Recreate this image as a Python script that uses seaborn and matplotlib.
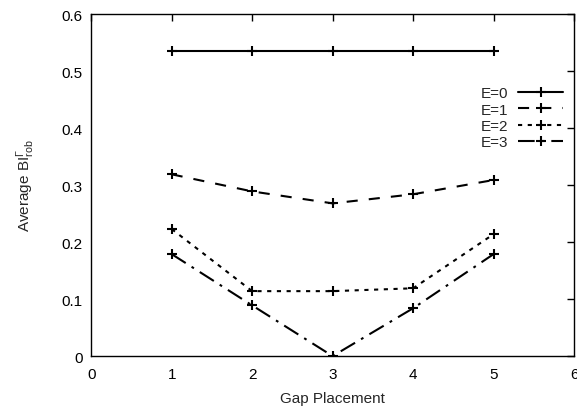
import matplotlib
matplotlib.use("Agg")
import matplotlib.pyplot as plt
import seaborn as sns

gap_placement = [1, 2, 3, 4, 5]
e0 = [0.535, 0.535, 0.535, 0.535, 0.535]
e1 = [0.319, 0.289, 0.268, 0.284, 0.309]
e2 = [0.223, 0.114, 0.114, 0.119, 0.214]
e3 = [0.179, 0.089, 0.0, 0.084, 0.179]
series_names = ["E=0", "E=1", "E=2", "E=3"]

sns.set_theme(style="white")
plt.rcParams["font.family"] = ["Liberation Sans", "DejaVu Sans"]
plt.rcParams["mathtext.fontset"] = "custom"
plt.rcParams["mathtext.rm"] = "Liberation Sans"
plt.rcParams["mathtext.it"] = "Liberation Sans:italic"
plt.rcParams["lines.scale_dashes"] = False

fig, ax = plt.subplots(figsize=(5.77, 4.10), dpi=100)
fig.subplots_adjust(left=0.158, right=0.995, top=0.963, bottom=0.129)

styles = ["-", (0, (8, 8)), (0, (3, 4)), (0, (12, 5, 2, 5))]
for name, vals, ls in zip(series_names, [e0, e1, e2, e3], styles):
    sns.lineplot(x=gap_placement, y=vals, ax=ax, color="black", label=name,
                 linestyle=ls, marker="+", markersize=7, markeredgewidth=1.5,
                 markeredgecolor="black", linewidth=1.5)

ax.set_xlim(0, 6)
ax.set_ylim(0, 0.6)
ax.set_xticks(range(0, 7))
ax.set_yticks([0, 0.1, 0.2, 0.3, 0.4, 0.5, 0.6])
ax.set_yticklabels(["0", "0.1", "0.2", "0.3", "0.4", "0.5", "0.6"])
ax.set_xlabel("Gap Placement", fontsize=11, labelpad=7)
ax.set_ylabel(r"Average BI$^{\Gamma}_{\rm rob}$", fontsize=11, labelpad=18)
ax.tick_params(axis="both", direction="in", length=5, width=1, labelsize=11,
               top=True, right=True, pad=6, colors="black")
ax.tick_params(axis="x", pad=8)
for s in ax.spines.values():
    s.set_color("black")
    s.set_linewidth(1)

handles, labels = ax.get_legend_handles_labels()
leg = ax.legend(handles, labels, loc="upper right", bbox_to_anchor=(1.0, 0.82),
                frameon=False, markerfirst=False, fontsize=11,
                handlelength=3.0, labelspacing=0.15, borderaxespad=0.3,
                handletextpad=0.6)

fig.savefig("out.png", dpi=100)
